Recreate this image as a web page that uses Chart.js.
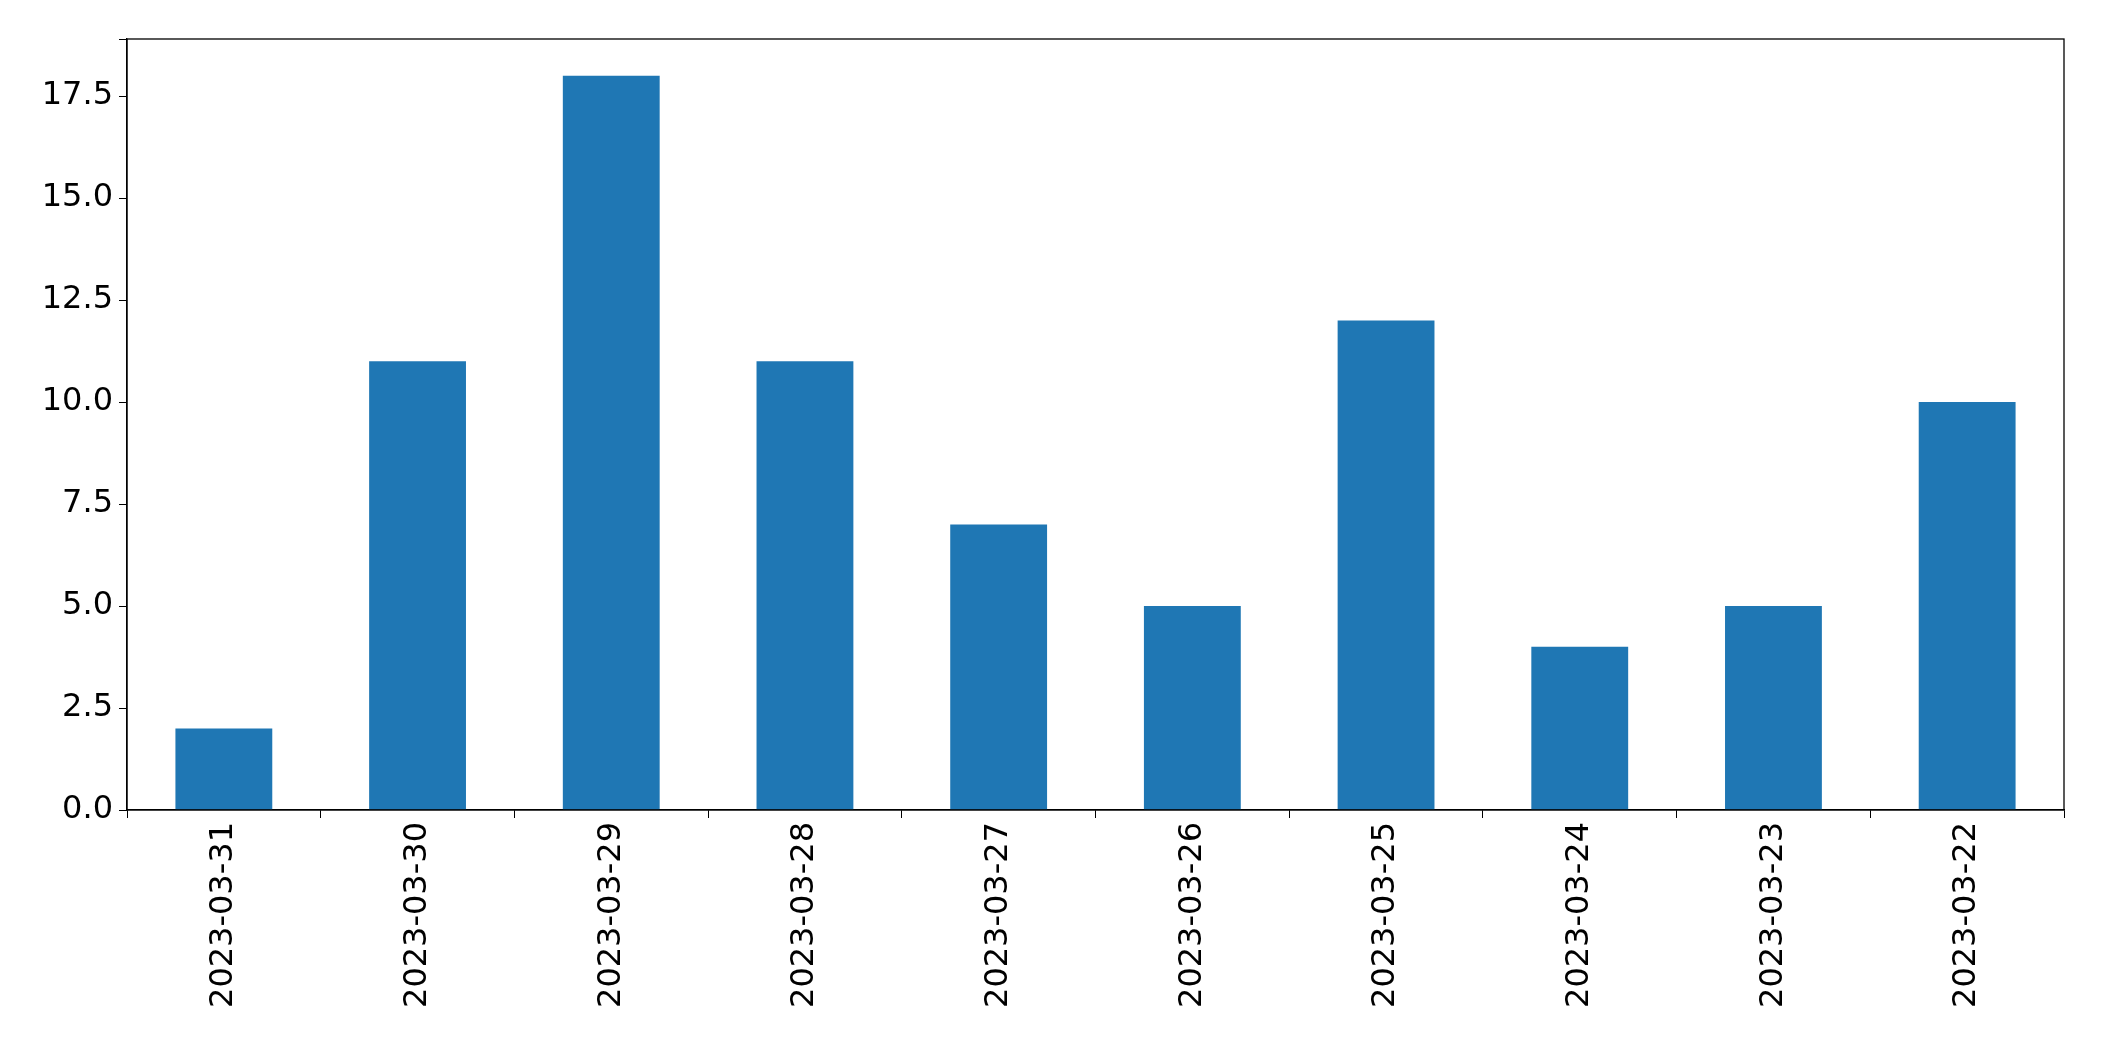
<!DOCTYPE html>
<html>
<head>
<meta charset="utf-8">
<script src="https://cdn.jsdelivr.net/npm/chart.js@4"></script>
<style>
  body { margin: 0; background: #fff; }
  #wrap { width: 2104px; height: 1061px; }
</style>
</head>
<body>
<div id="wrap"><canvas id="myChart"></canvas></div>
<script>
const dates = ["2023-03-31", "2023-03-30", "2023-03-29", "2023-03-28", "2023-03-27",
               "2023-03-26", "2023-03-25", "2023-03-24", "2023-03-23", "2023-03-22"];
const counts = [2, 11, 18, 11, 7, 5, 12, 4, 5, 10];

// draw the full box around the plot area, like matplotlib spines
const frame = {
  id: "frame",
  afterDraw: (chart) => {
    const a = chart.chartArea;
    const c = chart.ctx;
    c.save();
    c.strokeStyle = "#000";
    c.lineWidth = 1.3;
    c.strokeRect(a.left, a.top, a.right - a.left, a.bottom - a.top);
    c.restore();
  },
};

const font = { family: "DejaVu Sans", size: 32 };

new Chart(document.getElementById("myChart"), {
  type: "bar",
  data: {
    labels: dates,
    datasets: [{ data: counts, backgroundColor: "#1f77b4", categoryPercentage: 1, barPercentage: 0.5 }],
  },
  options: {
    responsive: true,
    maintainAspectRatio: false,
    animation: false,
    layout: { padding: { top: 39, right: 40, left: 0, bottom: 0 } },
    plugins: { legend: { display: false }, tooltip: { enabled: false } },
    scales: {
      x: {
        offset: true,
        grid: { drawOnChartArea: false, tickLength: 8, color: "#000" },
        border: { color: "#000", width: 1.3 },
        ticks: { color: "#000", font: font, maxRotation: 90, minRotation: 90, padding: 4 },
        afterFit: (s) => { s.height = 251; },
      },
      y: {
        min: 0,
        max: 18.9,
        grid: { drawOnChartArea: false, tickLength: 8, color: "#000" },
        border: { color: "#000", width: 1.3 },
        ticks: {
          color: "#000", font: font, stepSize: 2.5, padding: 6,
          callback: (v) => (v % 2.5 === 0 ? v.toFixed(1) : ""),
        },
        afterFit: (s) => { s.width = 127; },
      },
    },
  },
  plugins: [frame],
});
</script>
</body>
</html>
